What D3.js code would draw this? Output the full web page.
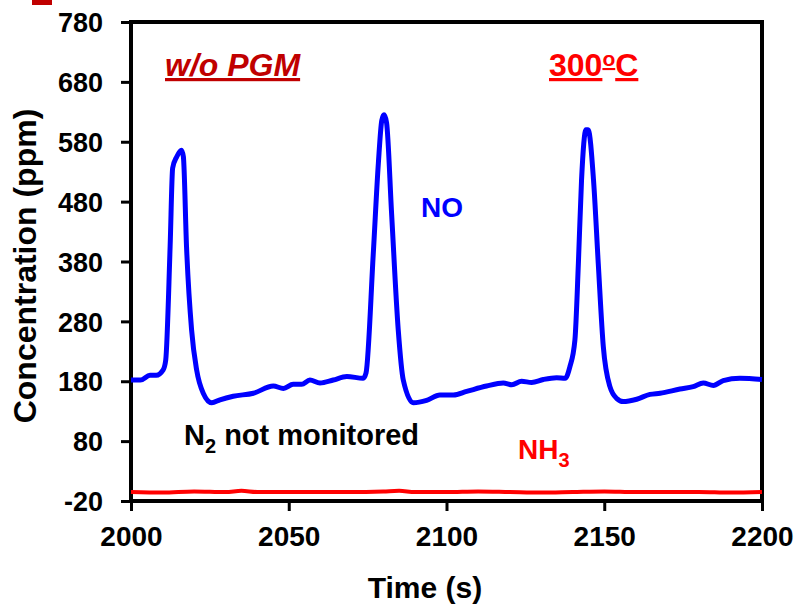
<!DOCTYPE html>
<html>
<head>
<meta charset="utf-8">
<script src="https://cdn.jsdelivr.net/npm/d3@7"></script>
<style>
  body { margin: 0; background: #fff; }
  text { font-family: "Liberation Sans", Arial, sans-serif; font-weight: bold; }
</style>
</head>
<body>
<div id="chart"></div>
<script>
const WIDTH = 794;
const HEIGHT = 605;
const LEFT = 131;
const RIGHT = 762;
const TOP = 22;
const BOTTOM = 501;

// NO trace (time in s, concentration in ppm)
const noTime = [2000, 2003, 2006, 2008, 2010.2, 2011, 2012.4, 2013.2, 2014.5, 2016, 2016.6, 2017.6, 2019.2,
  2020.8, 2022.9, 2025.6, 2028.2, 2032.4, 2038.8, 2045.1, 2048.3, 2051.4, 2054.1, 2056.7, 2059.9, 2064.1,
  2068.4, 2073.6, 2074.5, 2076.8, 2078.4, 2079.5, 2080.2, 2081, 2082.6, 2084.7, 2086.3, 2089.5, 2093.7,
  2097.9, 2102.2, 2106.4, 2112.7, 2118, 2120.7, 2123.8, 2127, 2130.7, 2134.9, 2137.6, 2139.1, 2140.7,
  2141.8, 2142.8, 2144.2, 2144.9, 2146.6, 2148.1, 2149.7, 2151.8, 2154, 2156, 2160.3, 2164.5, 2167.7,
  2174, 2178.2, 2181.4, 2184.6, 2187.7, 2193, 2200];
const noValue = [182, 182, 190, 190, 199, 215, 405, 536, 555, 566, 555, 405, 266,
  199, 160, 144, 149, 155, 160, 172, 168, 175, 175, 182, 177, 182,
  188, 185, 194, 394, 544, 616, 625, 612, 460, 266, 182, 144, 148,
  157, 157, 163, 172, 177, 174, 180, 178, 183, 186, 185, 204, 249,
  377, 516, 600, 600, 516, 377, 238, 171, 151, 146, 150, 158, 160,
  167, 171, 177, 173, 181, 185, 183];

// NH3 trace
const nh3Time = [2000, 2010, 2020, 2030, 2035, 2040, 2050, 2060, 2070, 2080, 2085, 2090, 2100, 2110,
  2120, 2130, 2140, 2150, 2160, 2170, 2180, 2190, 2200];
const nh3Value = [-5, -6, -4, -5, -3, -5, -5, -5, -5, -4, -3, -5, -5, -4,
  -5, -6, -5, -4, -5, -5, -5, -6, -5];

const xTicks = [2000, 2050, 2100, 2150, 2200];
const yTicks = [-20, 80, 180, 280, 380, 480, 580, 680, 780];

const svg = d3.select('#chart')
  .append('svg')
  .attr('width', WIDTH)
  .attr('height', HEIGHT);

const xScale = d3.scaleLinear().domain([2000, 2200]).range([LEFT, RIGHT]);
const yScale = d3.scaleLinear().domain([-20, 780]).range([BOTTOM, TOP]);

// cut-off panel letter in the corner
svg.append('rect')
  .attr('x', 32).attr('y', 0).attr('width', 20).attr('height', 5)
  .attr('fill', '#c00000');

// axes with outward ticks
const xAxis = d3.axisBottom(xScale).tickValues(xTicks).tickFormat(d => String(d)).tickSize(10).tickSizeOuter(0);
const gx = svg.append('g')
  .attr('transform', 'translate(0,' + BOTTOM + ')')
  .call(xAxis);
gx.select('.domain').remove();
gx.selectAll('line').attr('stroke', '#000').attr('stroke-width', 3);
gx.selectAll('text')
  .attr('y', 45)
  .attr('dy', 0)
  .attr('fill', '#000')
  .style('font-size', '28px');

const yAxis = d3.axisLeft(yScale).tickValues(yTicks).tickFormat(d => String(d)).tickSize(10).tickSizeOuter(0);
const gy = svg.append('g')
  .attr('transform', 'translate(' + LEFT + ',0)')
  .call(yAxis);
gy.select('.domain').remove();
gy.selectAll('line').attr('stroke', '#000').attr('stroke-width', 3);
gy.selectAll('text')
  .attr('x', -28)
  .attr('dy', '0.36em')
  .attr('fill', '#000')
  .style('font-size', '27px');

// frame
svg.append('rect')
  .attr('x', LEFT).attr('y', TOP)
  .attr('width', RIGHT - LEFT).attr('height', BOTTOM - TOP)
  .attr('fill', 'none')
  .attr('stroke', '#000')
  .attr('stroke-width', 4);

// lines
const noData = noTime.map((t, i) => ({ t: t, v: noValue[i] }));
const nh3Data = nh3Time.map((t, i) => ({ t: t, v: nh3Value[i] }));

const line = d3.line()
  .x(d => xScale(d.t))
  .y(d => yScale(d.v))
  .curve(d3.curveMonotoneX);

svg.append('path')
  .datum(nh3Data)
  .attr('d', line)
  .attr('fill', 'none')
  .attr('stroke', '#ff0000')
  .attr('stroke-width', 4);

svg.append('path')
  .datum(noData)
  .attr('d', line)
  .attr('fill', 'none')
  .attr('stroke', '#0000ff')
  .attr('stroke-width', 5)
  .attr('stroke-linejoin', 'round');

// axis titles
svg.append('text')
  .attr('x', 425).attr('y', 598)
  .attr('text-anchor', 'middle')
  .style('font-size', '30px')
  .text('Time (s)');

svg.append('text')
  .attr('transform', 'translate(36,266) rotate(-90)')
  .attr('text-anchor', 'middle')
  .style('font-size', '32px')
  .text('Concentration (ppm)');

// annotations
svg.append('text')
  .attr('x', 165).attr('y', 76)
  .attr('fill', '#c00000')
  .style('font-size', '32px')
  .style('font-style', 'italic')
  .style('text-decoration', 'underline')
  .text('w/o PGM');

const temp = svg.append('text')
  .attr('x', 549).attr('y', 76)
  .attr('fill', '#ff0000')
  .style('font-size', '32px')
  .style('text-decoration', 'underline');
temp.append('tspan').text('300');
temp.append('tspan').attr('dy', -10).style('font-size', '21px').text('o');
temp.append('tspan').attr('dy', 10).text('C');

svg.append('text')
  .attr('x', 421).attr('y', 217)
  .attr('fill', '#0000ff')
  .style('font-size', '28px')
  .text('NO');

const nh3 = svg.append('text')
  .attr('x', 518).attr('y', 459)
  .attr('fill', '#ff0000')
  .style('font-size', '28px');
nh3.append('tspan').text('NH');
nh3.append('tspan').attr('dy', 8).style('font-size', '20px').text('3');

const n2 = svg.append('text')
  .attr('x', 184).attr('y', 445)
  .attr('fill', '#000')
  .style('font-size', '29px');
n2.append('tspan').text('N');
n2.append('tspan').attr('dy', 8).style('font-size', '20px').text('2');
n2.append('tspan').attr('dy', -8).text(' not monitored');
</script>
</body>
</html>
